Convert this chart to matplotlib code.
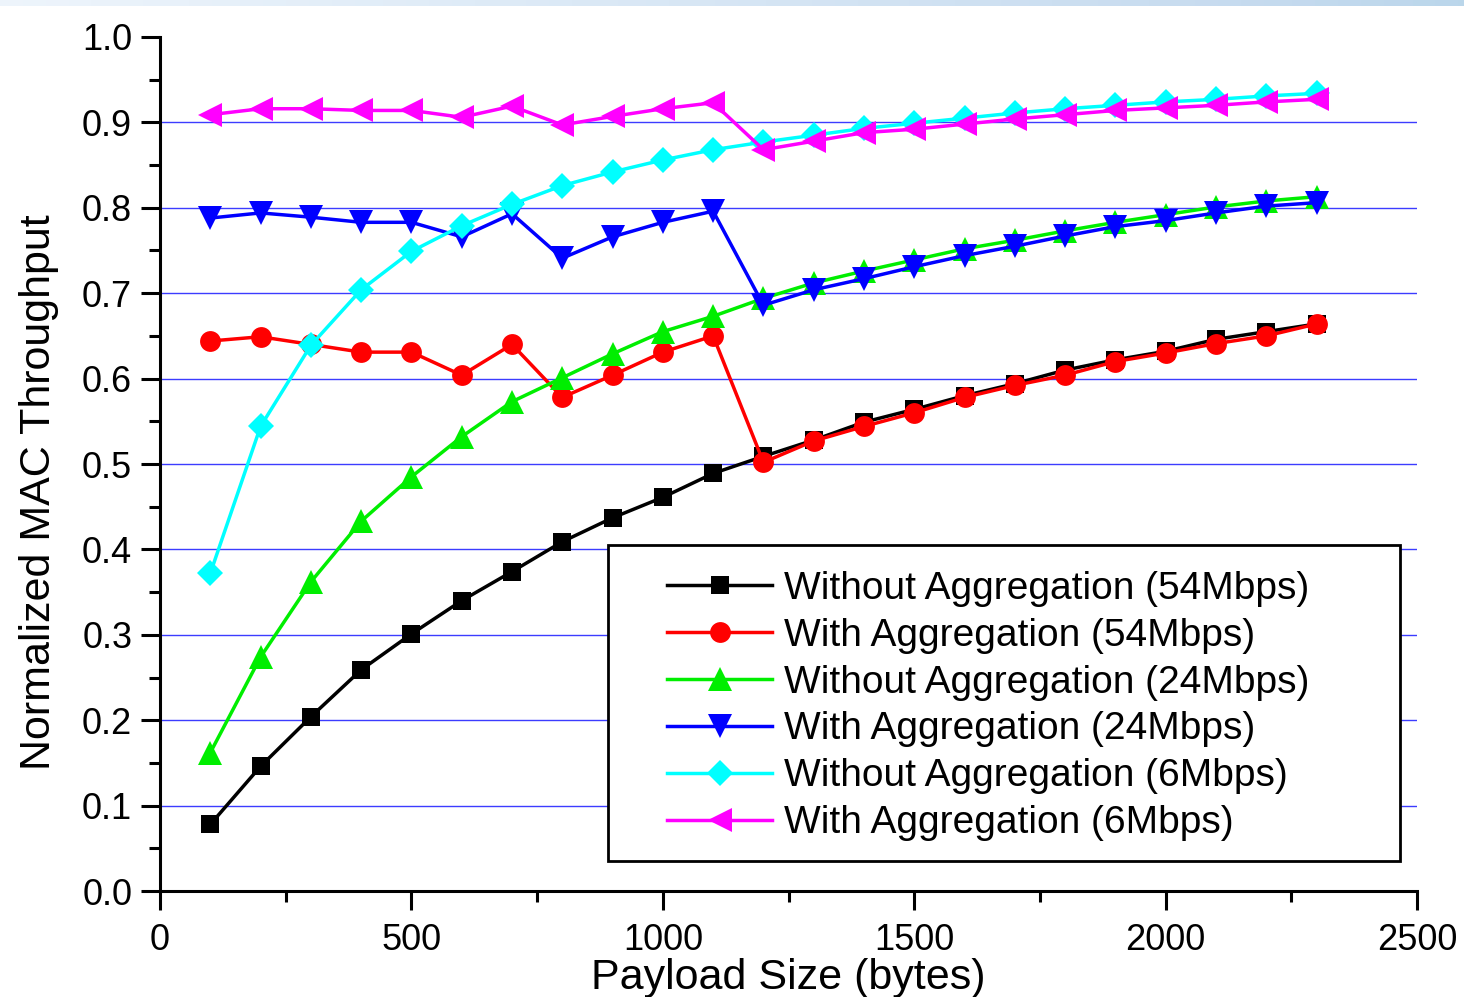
import numpy as np
from matplotlib import pyplot as plt
from matplotlib.patches import Rectangle
from matplotlib.ticker import MultipleLocator

plt.rcParams['font.family'] = ['Liberation Sans', 'DejaVu Sans']

payload = list(range(100, 2400, 100))

wo_54 = [0.078, 0.146, 0.204, 0.259, 0.301, 0.340, 0.374, 0.409, 0.437, 0.461, 0.489, 0.509,
         0.528, 0.549, 0.564, 0.580, 0.594, 0.610, 0.622, 0.632, 0.646, 0.655, 0.664]
w_54 = [0.644, 0.649, 0.640, 0.631, 0.631, 0.604, 0.640, 0.578, 0.604, 0.631, 0.650, 0.502,
        0.527, 0.544, 0.560, 0.578, 0.592, 0.604, 0.620, 0.630, 0.641, 0.650, 0.664]
wo_24 = [0.162, 0.274, 0.362, 0.433, 0.485, 0.532, 0.573, 0.601, 0.629, 0.655, 0.673, 0.694,
         0.712, 0.726, 0.739, 0.752, 0.762, 0.773, 0.783, 0.792, 0.801, 0.808, 0.813]
w_24 = [0.788, 0.794, 0.789, 0.783, 0.783, 0.766, 0.793, 0.741, 0.766, 0.783, 0.796, 0.686,
        0.704, 0.717, 0.731, 0.744, 0.755, 0.767, 0.778, 0.785, 0.794, 0.802, 0.806]
wo_6 = [0.372, 0.544, 0.639, 0.704, 0.749, 0.779, 0.804, 0.826, 0.842, 0.856, 0.868, 0.877,
        0.885, 0.893, 0.899, 0.905, 0.911, 0.916, 0.920, 0.924, 0.927, 0.931, 0.934]
w_6 = [0.909, 0.916, 0.916, 0.914, 0.914, 0.906, 0.919, 0.897, 0.907, 0.916, 0.923, 0.868,
       0.878, 0.888, 0.892, 0.898, 0.904, 0.909, 0.914, 0.917, 0.920, 0.924, 0.927]

series = [
    ("Without Aggregation (54Mbps)", wo_54, "black", "s", 13),
    ("With Aggregation (54Mbps)", w_54, "red", "o", 15),
    ("Without Aggregation (24Mbps)", wo_24, "#00ee00", "^", 17),
    ("With Aggregation (24Mbps)", w_24, "blue", "v", 17),
    ("Without Aggregation (6Mbps)", wo_6, "cyan", "D", 13),
    ("With Aggregation (6Mbps)", w_6, "magenta", "<", 17),
]

fig = plt.figure(figsize=(14.64, 9.97), dpi=100)

# faint gradient strip along the top edge
band = fig.add_axes([0, 0.994, 1, 0.006])
band.imshow(np.linspace(0, 1, 256)[None, :], aspect="auto", cmap="Blues",
            vmin=-0.2, vmax=4.0, extent=(0, 1, 0, 1))
band.axis("off")

ax = fig.add_axes([0.1093, 0.1063, 0.8587, 0.8566])

ax.hlines(np.arange(0.1, 0.95, 0.1), 0, 2500, colors="#3c3cff", linewidth=1.0, zorder=1)

for label, y, color, marker, ms in series:
    ax.plot(payload, y, color=color, marker=marker, markersize=ms, linewidth=2.5,
            markeredgewidth=0, label=label, zorder=3)

ax.set_xlim(0, 2500)
ax.set_ylim(0, 1.0)
ax.xaxis.set_major_locator(MultipleLocator(500))
ax.xaxis.set_minor_locator(MultipleLocator(250))
ax.yaxis.set_major_locator(MultipleLocator(0.1))
ax.yaxis.set_minor_locator(MultipleLocator(0.05))
ax.set_yticklabels([f"{v:.1f}" for v in ax.get_yticks()])

for side in ("top", "right"):
    ax.spines[side].set_visible(False)
for side in ("left", "bottom"):
    ax.spines[side].set_linewidth(2.2)

ax.tick_params(which="major", direction="out", length=14, width=2.2, labelsize=26, pad=6)
ax.tick_params(axis="x", which="major", pad=9)
ax.tick_params(which="minor", direction="out", length=8, width=2.2)

ax.set_xlabel("Payload Size (bytes)", fontsize=31)
ax.set_ylabel("Normalized MAC Throughput", fontsize=31)
ax.xaxis.set_label_coords(0.4996, -0.078)
ax.yaxis.set_label_coords(-0.08, 0.467)

leg = ax.legend(loc="upper left", bbox_to_anchor=(0.4033, 0.375), fontsize=28,
                frameon=False, handlelength=2.7, handletextpad=0.3,
                labelspacing=0.28, borderpad=0, borderaxespad=0)
ax.add_patch(Rectangle((0.3564, 0.0351), 0.6301, 0.3701, transform=ax.transAxes,
                       facecolor="white", edgecolor="black", linewidth=2, zorder=4))
leg.set_zorder(5)

fig.savefig("out.png", dpi=100, facecolor="white")
